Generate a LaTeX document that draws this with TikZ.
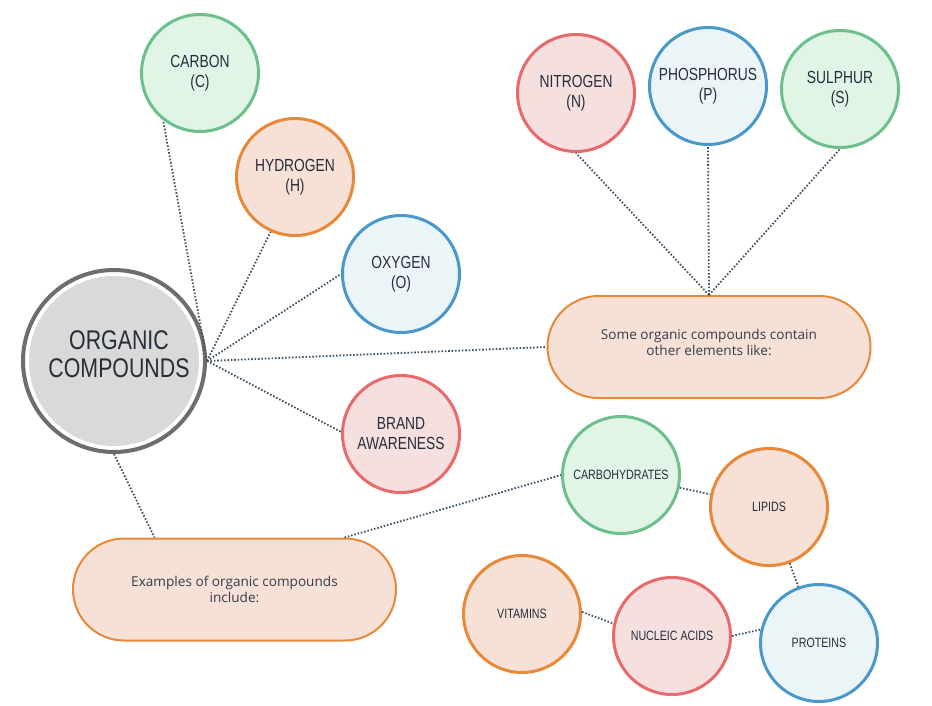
\documentclass[tikz,border=0pt]{standalone}
\usepackage{fontspec}
\usetikzlibrary{calc}
\newfontfamily\condfont{Liberation Sans}[FakeStretch=0.79]
\newfontfamily\pillfont{Open Sans}
\definecolor{txt}{HTML}{262E3B}
\definecolor{ptxt}{HTML}{343C4A}
\definecolor{linec}{HTML}{3D5366}
\definecolor{gstroke}{HTML}{6DBF8B}
\definecolor{gfill}{HTML}{E0F5E6}
\definecolor{ostroke}{HTML}{E8893A}
\definecolor{ofill}{HTML}{F7E1D7}
\definecolor{bstroke}{HTML}{4A98C9}
\definecolor{bfill}{HTML}{EBF5F8}
\definecolor{rstroke}{HTML}{E96A6A}
\definecolor{rfill}{HTML}{F5DFDF}
\definecolor{ringgray}{HTML}{6D6D6D}
\definecolor{coregray}{HTML}{D9D9D9}
\tikzset{
  bubble/.style={circle, line width=3pt, minimum size=117pt, inner sep=0pt,
    align=center, text=txt, font=\condfont\fontsize{17.5}{20}\selectfont},
  smallbubble/.style={bubble, font=\condfont\fontsize{13.5}{16}\selectfont},
  green/.style={draw=gstroke, fill=gfill},
  orange/.style={draw=ostroke, fill=ofill},
  blue/.style={draw=bstroke, fill=bfill},
  red/.style={draw=rstroke, fill=rfill},
  pill/.style={rectangle, rounded corners=51pt, draw=ostroke, fill=ofill, line width=2pt,
    minimum width=323pt, minimum height=102pt},
  pilltext/.style={align=center, text=ptxt, inner sep=0pt,
    font=\pillfont\fontsize{13.6}{16}\selectfont},
  link/.style={draw=linec, line width=1.8pt, dash pattern=on 1.6pt off 1.8pt}
}
\begin{document}
\begin{tikzpicture}[x=1pt,y=-1pt]
\useasboundingbox[fill=white] (0,0) rectangle (932,705);
% central
\node[circle, draw=ringgray, fill=white, line width=4pt, minimum size=182pt, inner sep=0pt] (oc) at (114,361) {};
\node[circle, fill=coregray, minimum size=170pt, inner sep=0pt] (ocin) at (114,361) {};
\node[align=center, text=txt, inner sep=0pt,
  font=\condfont\fontsize{27}{28}\selectfont] (octxt) at (119,354) {ORGANIC\\COMPOUNDS};
% element circles
\node[bubble, green] (carbon) at (200,73) {CARBON\\(C)};
\node[bubble, orange] (hydrogen) at (295,177) {HYDROGEN\\(H)};
\node[bubble, blue] (oxygen) at (401,274) {OXYGEN\\(O)};
\node[bubble, red] (brand) at (401,434) {BRAND\\AWARENESS};
\node[bubble, red] (nitrogen) at (576,93) {NITROGEN\\(N)};
\node[bubble, blue] (phosphorus) at (708,86) {PHOSPHORUS\\(P)};
\node[bubble, green] (sulphur) at (840,89) {SULPHUR\\(S)};
% pills
\node[pill] (pill1) at (709,347) {};
\node[pilltext] (pill1t) at (709,342) {Some organic compounds contain\\other elements like:};
\node[pill] (pill2) at (234.5,589.5) {};
\node[pilltext] (pill2t) at (234.5,589.5) {Examples of organic compounds\\include:};
% examples
\node[smallbubble, green] (carbo) at (621,475) {CARBOHYDRATES};
\node[smallbubble, orange] (lipids) at (769,507) {LIPIDS};
\node[smallbubble, orange] (vitamins) at (522,614) {VITAMINS};
\node[smallbubble, red] (nucleic) at (672,636) {NUCLEIC ACIDS};
\node[smallbubble, blue] (proteins) at (819,643) {PROTEINS};
% connectors
\path[link] (oc.east) -- (carbon.232);
\path[link] (oc.east) -- (hydrogen.246);
\path[link] (oc.east) -- (oxygen.180);
\path[link] (oc.east) -- (brand.178);
\path[link] (oc.east) -- (pill1.west);
\path[link] (oc.south) -- ($(pill2.north)+(-80,0)$);
\path[link] (pill1.north) -- (nitrogen.south);
\path[link] (pill1.north) -- (phosphorus.south);
\path[link] (pill1.north) -- (sulphur.south);
\path[link] ($(pill2.north)+(110,0)$) -- (carbo.180);
\path[link] (carbo) -- (lipids);
\path[link] (lipids) -- (proteins);
\path[link] (vitamins.2) -- (nucleic.168);
\path[link] (nucleic.0) -- (proteins.167);
\end{tikzpicture}
\end{document}
